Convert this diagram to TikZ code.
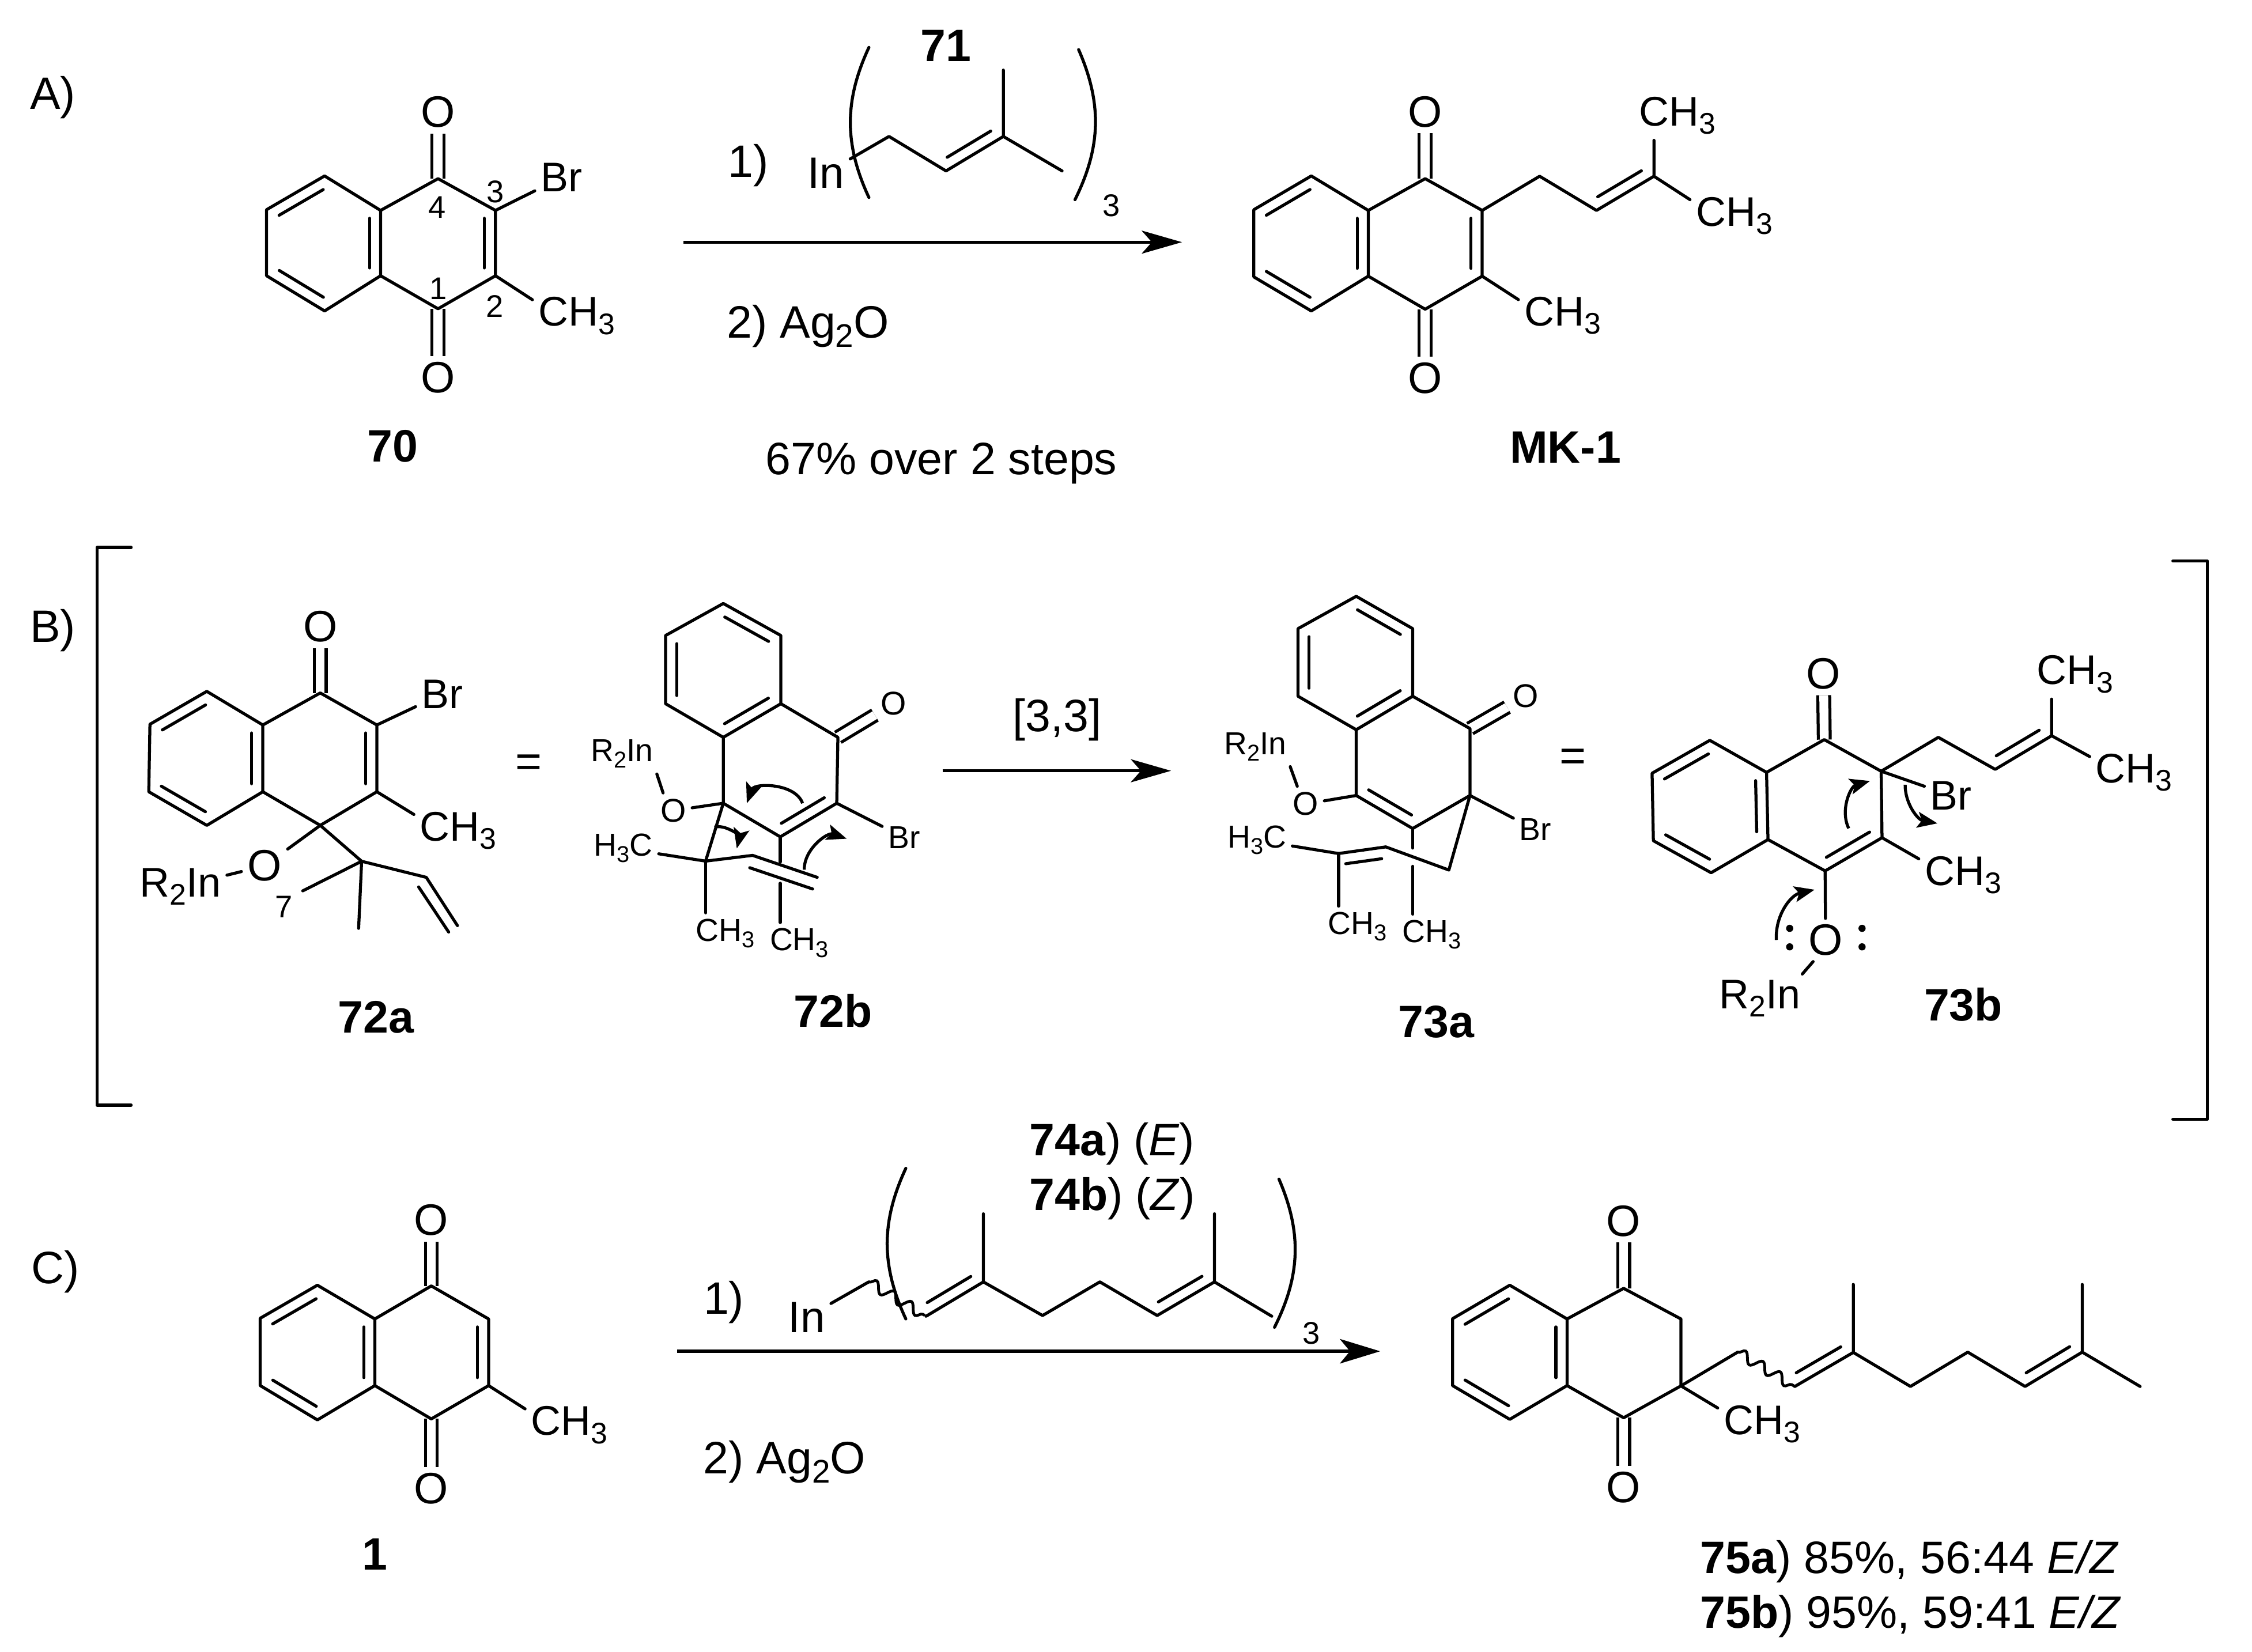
\documentclass[tikz,border=0pt]{standalone}
\usepackage{fontspec}
\usepackage{graphicx}
\setmainfont{Liberation Sans}
\usetikzlibrary{arrows.meta,calc,decorations.pathmorphing}

\newcommand{\inbond}[3][2.2pt]{\draw[bond] ($(#2)!0.12!(#3)!#1!90:(#3)$) -- ($(#3)!0.12!(#2)!#1!-90:(#2)$);}
\newcommand{\subn}[1]{\raisebox{-.2em}{\scalebox{.72}{#1}}}

\begin{document}
\begin{tikzpicture}[x=0.01cm, y=-0.01cm,
    bond/.style={line width=.6pt,line cap=round,line join=round},
    dbl/.style={line width=.6pt,double,double distance=1.75pt},
    wavy/.style={line width=.55pt,decorate,decoration={snake,amplitude=1pt,segment length=4pt}},
    rxn/.style={line width=.6pt,-{Stealth[length=2.8mm,width=1.6mm,inset=.7mm]}},
    rxnb/.style={line width=.7pt,-{Stealth[length=2.8mm,width=1.7mm,inset=.7mm]}},
    curly/.style={line width=.6pt,-{Stealth[length=1.4mm,width=1.1mm,inset=.3mm]}},
    txt/.style={anchor=base,inner sep=0pt,font=\fontsize{9}{10}\selectfont},
    lab/.style={anchor=base,inner sep=0pt,font=\fontsize{9}{10}\selectfont\bfseries},
    num/.style={anchor=base,inner sep=0pt,font=\fontsize{6.2}{7}\selectfont},
    atom/.style={anchor=base,inner sep=1pt,font=\fontsize{8.2}{9}\selectfont},
    inatom/.style={anchor=base,inner sep=1pt,font=\fontsize{8.7}{9}\selectfont},
    oxy/.style={inner sep=1pt,font=\fontsize{8.7}{9}\selectfont},
    satom/.style={anchor=base,inner sep=1pt,font=\fontsize{6.3}{7}\selectfont},
    soxy/.style={inner sep=1pt,font=\fontsize{6.5}{7}\selectfont}]

    \useasboundingbox (0,0) rectangle (1568,1150);

    \node[txt] at (36.7,76) (tagA) {A)};
    \node[txt] at (36.8,447) (tagB) {B)};
    \node[txt] at (38.4,893.7) (tagC) {C)};

    \coordinate (a1) at (226,122.5);
    \coordinate (a2) at (185.6,146);
    \coordinate (a3) at (185.6,192);
    \coordinate (a4) at (226,216.5);
    \coordinate (a5) at (265,192);
    \coordinate (a6) at (265,146.5);
    \coordinate (a7) at (305,124.4);
    \coordinate (a8) at (345,146.5);
    \coordinate (a9) at (345,192);
    \coordinate (a10) at (305,215);
    \node[oxy] at (305,78) (aO1) {O};
    \node[oxy] at (305,263) (aO2) {O};
    \node[atom] at (391,133.5) (aBr) {Br};
    \node[atom] at (401.5,227) (aMe) {CH\subn{3}};
    \node[num] at (345,141) (n3) {3};
    \node[num] at (304.5,152) (n4) {4};
    \node[num] at (305,208.4) (n1) {1};
    \node[num] at (344.5,221) (n2) {2};
    \node[lab] at (273.5,321.7) (l70) {70};
    \draw[dbl] (a7) -- (aO1);
    \draw[dbl] (a10) -- (aO2);
    \draw[bond] (a1) -- (a2) -- (a3) -- (a4) -- (a5) -- (a6) -- cycle;
    \draw[bond] (a6) -- (a7) -- (a8) -- (a9) -- (a10) -- (a5);
    \draw[bond] (a8) -- (aBr);
    \draw[bond] (a9) -- (aMe.160);
    \inbond{a1}{a2}
    \inbond{a3}{a4}
    \inbond{a5}{a6}
    \inbond{a9}{a8}

    \node[lab] at (658.7,42.6) (l71) {71};
    \node[txt] at (521,123.2) (step1a) {1)};
    \node[inatom] at (575,131) (inA) {In};
    \coordinate (r1) at (619,95);
    \coordinate (r2) at (658.7,119);
    \coordinate (r3) at (698.6,95);
    \coordinate (r4) at (698.6,48.8);
    \coordinate (r5) at (739.5,119);
    \coordinate (pa1) at (605,33);
    \coordinate (pa2) at (605,137.5);
    \coordinate (pb1) at (751,34.5);
    \coordinate (pb2) at (748.5,139);
    \draw[bond] (inA) -- (r1) -- (r2) -- (r3) -- (r4);
    \draw[bond] (r3) -- (r5);
    \inbond{r2}{r3}
    \draw[bond] (pa1) to[bend right=25] (pa2);
    \draw[bond] (pb1) to[bend left=25] (pb2);
    \node[num] at (774,150.8) (subA) {3};
    \coordinate (arA1) at (476,168.6);
    \coordinate (arA2) at (823,168.6);
    \draw[rxn] (arA1) -- (arA2);
    \node[txt] at (562.6,235.4) (step2a) {2) Ag\subn{2}O};
    \node[txt] at (655.5,330.5) (yieldA) {67\% over 2 steps};

    \coordinate (b1) at (913,122.5);
    \coordinate (b2) at (873,146);
    \coordinate (b3) at (873,192.8);
    \coordinate (b4) at (913,216.5);
    \coordinate (b5) at (952.7,192.3);
    \coordinate (b6) at (952.7,146.5);
    \coordinate (b7) at (992.3,124.4);
    \coordinate (b8) at (1032,146.5);
    \coordinate (b9) at (1032,192.3);
    \coordinate (b10) at (992.3,215.3);
    \coordinate (b11) at (1072,122.7);
    \coordinate (b12) at (1111.6,146.5);
    \coordinate (b13) at (1151.6,122.7);
    \node[oxy] at (992.3,77.8) (bO1) {O};
    \node[oxy] at (992.3,263.2) (bO2) {O};
    \node[atom] at (1168,87.5) (bMe1) {CH\subn{3}};
    \node[atom] at (1207.5,157.3) (bMe2) {CH\subn{3}};
    \node[atom] at (1088,226.9) (bMe3) {CH\subn{3}};
    \node[lab] at (1090,322.4) (lMK) {MK-1};
    \draw[dbl] (b7) -- (bO1);
    \draw[dbl] (b10) -- (bO2);
    \draw[bond] (b1) -- (b2) -- (b3) -- (b4) -- (b5) -- (b6) -- cycle;
    \draw[bond] (b6) -- (b7) -- (b8) -- (b9) -- (b10) -- (b5);
    \draw[bond] (b8) -- (b11) -- (b12) -- (b13) -- (b13 |- bMe1.south);
    \draw[bond] (b13) -- (bMe2.160);
    \draw[bond] (b9) -- (bMe3.160);
    \inbond{b1}{b2}
    \inbond{b3}{b4}
    \inbond{b5}{b6}
    \inbond{b9}{b8}
    \inbond{b12}{b13}

    \coordinate (brL1) at (91.3,381.2);
    \coordinate (brL2) at (67.5,381.2);
    \coordinate (brL3) at (67.5,769.5);
    \coordinate (brL4) at (91.3,769.5);
    \draw[bond] (brL1) -- (brL2) -- (brL3) -- (brL4);
    \coordinate (brR1) at (1512.9,390.6);
    \coordinate (brR2) at (1537,390.6);
    \coordinate (brR3) at (1537,779.4);
    \coordinate (brR4) at (1512.9,779.4);
    \draw[bond] (brR1) -- (brR2) -- (brR3) -- (brR4);

    \coordinate (c1) at (144,481.4);
    \coordinate (c2) at (104.4,504.3);
    \coordinate (c3) at (103.6,551.3);
    \coordinate (c4) at (144,574.7);
    \coordinate (c5) at (183,551.3);
    \coordinate (c6) at (183,504.8);
    \coordinate (c7) at (223,482.5);
    \coordinate (c8) at (262.4,504.8);
    \coordinate (c9) at (262.4,551.3);
    \coordinate (c10) at (223,574.7);
    \coordinate (c11) at (251.8,599.7);
    \coordinate (c12) at (296.8,610.9);
    \coordinate (c13) at (318.5,644.5);
    \coordinate (c14) at (210.8,620.3);
    \coordinate (c15) at (249.7,646.4);
    \coordinate (c16) at (291.5,617.6);
    \coordinate (c17) at (312.4,649);
    \node[oxy] at (223,436.3) (cO1) {O};
    \node[oxy] at (184.2,602.9) (cO2) {O};
    \node[atom] at (308,493.2) (cBr) {Br};
    \node[atom] at (319,585.4) (cMe) {CH\subn{3}};
    \node[atom] at (125.6,624.4) (cIn) {R\subn{2}In};
    \node[num] at (197.6,639.1) (n7) {7};
    \node[lab] at (261.7,719.2) (l72a) {72a};
    \draw[dbl] (c7) -- (cO1);
    \draw[bond] (c1) -- (c2) -- (c3) -- (c4) -- (c5) -- (c6) -- cycle;
    \draw[bond] (c6) -- (c7) -- (c8) -- (c9) -- (c10) -- (c5);
    \draw[bond] (c8) -- (cBr);
    \draw[bond] (c9) -- (cMe.160);
    \draw[bond] (c10) -- (cO2);
    \draw[bond] (cO2) -- (cIn);
    \draw[bond] (c10) -- (c11) -- (c12) -- (c13);
    \draw[bond] (c16) -- (c17);
    \draw[bond] (c14) -- (c11) -- (c15);
    \inbond{c1}{c2}
    \inbond{c3}{c4}
    \inbond{c5}{c6}
    \inbond{c9}{c8}
    \node[txt] at (368,541) (eq1) {=};

    \coordinate (d1) at (503.6,420.2);
    \coordinate (d2) at (463.4,442.5);
    \coordinate (d3) at (463.4,490);
    \coordinate (d4) at (503.6,513.4);
    \coordinate (d5) at (543.7,490);
    \coordinate (d6) at (543.7,442.5);
    \coordinate (d7) at (583.4,513.4);
    \coordinate (d8) at (582.6,559.3);
    \coordinate (d9) at (543.3,582.7);
    \coordinate (d10) at (503.6,559.3);
    \coordinate (e1) at (491.3,599.6);
    \coordinate (e2) at (524,595.6);
    \coordinate (e3) at (569,610.9);
    \coordinate (e4) at (522,604.2);
    \coordinate (e5) at (565.8,619);
    \coordinate (d9a) at (543.3,600.2);
    \coordinate (d9b) at (543.3,615);
    \node[soxy] at (622.3,490) (dO1) {O};
    \node[soxy] at (468.8,564.4) (dO2) {O};
    \node[satom] at (629.5,590.8) (dBr) {Br};
    \node[satom] at (433,530.3) (dIn) {R\subn{2}In};
    \node[satom] at (434,596.1) (dMe1) {H\subn{3}C};
    \node[satom] at (505,655.3) (dMe2) {CH\subn{3}};
    \node[satom] at (556.5,662) (dMe3) {CH\subn{3}};
    \node[lab] at (580,715.2) (l72b) {72b};
    \draw[dbl] (d7) -- (dO1);
    \draw[bond] (d1) -- (d2) -- (d3) -- (d4) -- (d5) -- (d6) -- cycle;
    \draw[bond] (d4) -- (d10) -- (d9) -- (d8) -- (d7) -- (d5);
    \draw[bond] (d8) -- (dBr);
    \draw[bond] (d10) -- (dO2);
    \draw[bond] (dO2.120) -- (dIn.-30);
    \draw[bond] (d10) -- (e1) -- (e2) -- (e3);
    \draw[bond] (e4) -- (e5);
    \draw[bond] (e1) -- (dMe1);
    \draw[bond] (e1) -- (e1 |- dMe2.north);
    \draw[bond] (d9) -- (d9a);
    \draw[bond] (d9b) -- (d9b |- dMe3.north);
    \inbond{d6}{d1}
    \inbond{d2}{d3}
    \inbond{d4}{d5}
    \inbond{d9}{d8}
    \coordinate (m1a) at (558.8,559.3);
    \coordinate (m1b) at (520,559.3);
    \coordinate (m2a) at (497.4,576);
    \coordinate (m2b) at (513,590.8);
    \coordinate (m3a) at (560,605.6);
    \coordinate (m3b) at (589.5,584);
    \draw[curly] (m1a) to[bend right=70] (m1b);
    \draw[curly] (m2a) to[bend left=60] (m2b);
    \draw[curly] (m3a) to[bend left=55] (m3b);

    \coordinate (arB1) at (656.3,536.7);
    \coordinate (arB2) at (815.4,536.7);
    \draw[rxn] (arB1) -- (arB2);
    \node[txt] at (736,509.3) (shift33) {[3,3]};

    \coordinate (f1) at (944.3,415.2);
    \coordinate (f2) at (903.8,437.7);
    \coordinate (f3) at (903.8,484.8);
    \coordinate (f4) at (944.3,508.1);
    \coordinate (f5) at (983.6,484.8);
    \coordinate (f6) at (983.6,437.7);
    \coordinate (f7) at (1023.5,507.3);
    \coordinate (f8) at (1023.5,553.9);
    \coordinate (f9) at (983.6,576.9);
    \coordinate (f10) at (944.3,553.9);
    \coordinate (g1) at (932,594.3);
    \coordinate (g2) at (964.9,589.7);
    \coordinate (g3) at (1008.8,605.8);
    \coordinate (f9a) at (983.6,590.5);
    \coordinate (f9b) at (983.6,603.2);
    \node[soxy] at (1062.5,484.8) (fO1) {O};
    \node[soxy] at (909,559.8) (fO2) {O};
    \node[satom] at (1069,585.3) (fBr) {Br};
    \node[satom] at (874,525.2) (fIn) {R\subn{2}In};
    \node[satom] at (875.2,590.5) (fMe1) {H\subn{3}C};
    \node[satom] at (945,650.6) (fMe2) {CH\subn{3}};
    \node[satom] at (997,656.2) (fMe3) {CH\subn{3}};
    \node[lab] at (1000,722.3) (l73a) {73a};
    \draw[dbl] (f7) -- (fO1);
    \draw[bond] (f1) -- (f2) -- (f3) -- (f4) -- (f5) -- (f6) -- cycle;
    \draw[bond] (f4) -- (f10) -- (f9) -- (f8) -- (f7) -- (f5);
    \draw[bond] (f8) -- (fBr);
    \draw[bond] (f10) -- (fO2);
    \draw[bond] (fO2.115) -- (fIn.-30);
    \draw[bond] (fMe1) -- (g1) -- (g2) -- (g3) -- (f8);
    \draw[bond] (g1) -- (g1 |- fMe2.north);
    \draw[bond] (f9) -- (f9a);
    \draw[bond] (f9b) -- (f9b |- fMe3.north);
    \inbond{f6}{f1}
    \inbond{f2}{f3}
    \inbond{f4}{f5}
    \inbond{f10}{f9}
    \inbond[-2.2pt]{g1}{g2}
    \node[txt] at (1095,537) (eq2) {=};

    \coordinate (h1) at (1190.5,515.5);
    \coordinate (h2) at (1150.3,538.4);
    \coordinate (h3) at (1151.2,585.4);
    \coordinate (h4) at (1191.4,607.7);
    \coordinate (h5) at (1231,584.6);
    \coordinate (h6) at (1230,537.8);
    \coordinate (h7) at (1270.2,515);
    \coordinate (h8) at (1309.8,537);
    \coordinate (h9) at (1310.4,583.3);
    \coordinate (h10) at (1270.8,606.4);
    \coordinate (h11) at (1349.6,513.4);
    \coordinate (h12) at (1389.2,535.7);
    \coordinate (h13) at (1428.5,512.3);
    \node[oxy] at (1269.6,469) (hO1) {O};
    \node[oxy] at (1271.1,654.5) (hO2) {O};
    \node[atom] at (1358.5,563.9) (hBr) {Br};
    \node[atom] at (1444.7,476.6) (hMe1) {CH\subn{3}};
    \node[atom] at (1485.8,545.1) (hMe2) {CH\subn{3}};
    \node[atom] at (1366.8,616.3) (hMe3) {CH\subn{3}};
    \node[atom] at (1225.4,702.3) (hIn) {R\subn{2}In};
    \node[lab] at (1367,710.9) (l73b) {73b};
    \draw[dbl] (h7) -- (hO1);
    \draw[bond] (h1) -- (h2) -- (h3) -- (h4) -- (h5) -- (h6) -- cycle;
    \draw[bond] (h6) -- (h7) -- (h8) -- (h9) -- (h10) -- (h5);
    \draw[bond] (h8) -- (h11) -- (h12) -- (h13) -- (h13 |- hMe1.south);
    \draw[bond] (h13) -- (hMe2.160);
    \draw[bond] (h8) -- (hBr);
    \draw[bond] (h9) -- (hMe3.160);
    \draw[bond] (h10) -- (hO2);
    \draw[bond] (hO2.-120) -- (hIn.30);
    \inbond{h1}{h2}
    \inbond{h3}{h4}
    \inbond{h5}{h6}
    \inbond{h10}{h9}
    \inbond{h12}{h13}
    \fill (1246.1,646.4) circle (0.025cm);
    \fill (1246.1,659.3) circle (0.025cm);
    \fill (1296.5,646.4) circle (0.025cm);
    \fill (1296.5,659.3) circle (0.025cm);
    \coordinate (m4a) at (1287.2,576.8);
    \coordinate (m4b) at (1302,543.8);
    \coordinate (m5a) at (1326.5,546.4);
    \coordinate (m5b) at (1349,573.3);
    \coordinate (m6a) at (1236.8,654.5);
    \coordinate (m6b) at (1263.4,619.5);
    \draw[curly] (m4a) to[bend left=50] (m4b);
    \draw[curly] (m5a) to[bend right=40] (m5b);
    \draw[curly] (m6a) to[bend left=40] (m6b);

    \coordinate (i1) at (221,894.9);
    \coordinate (i2) at (181.2,917.9);
    \coordinate (i3) at (181.2,964.8);
    \coordinate (i4) at (221,988.7);
    \coordinate (i5) at (261,964.8);
    \coordinate (i6) at (261,918.4);
    \coordinate (i7) at (300.3,895.4);
    \coordinate (i8) at (340.2,918.4);
    \coordinate (i9) at (340.2,964.8);
    \coordinate (i10) at (300.3,988);
    \node[oxy] at (300.3,849.6) (iO1) {O};
    \node[oxy] at (300.3,1036.4) (iO2) {O};
    \node[atom] at (396.4,999.3) (iMe) {CH\subn{3}};
    \node[lab] at (261,1093) (l1) {1};
    \draw[dbl] (i7) -- (iO1);
    \draw[dbl] (i10) -- (iO2);
    \draw[bond] (i1) -- (i2) -- (i3) -- (i4) -- (i5) -- (i6) -- cycle;
    \draw[bond] (i6) -- (i7) -- (i8) -- (i9) -- (i10) -- (i5);
    \draw[bond] (i9) -- (iMe.160);
    \inbond{i1}{i2}
    \inbond{i3}{i4}
    \inbond{i5}{i6}
    \inbond{i9}{i8}

    \node[txt] at (774.4,804.6) (l74a) {\textbf{74a}) (\textit{E})};
    \node[txt] at (774.4,842.8) (l74b) {\textbf{74b}) (\textit{Z})};
    \node[txt] at (504,914.8) (step1c) {1)};
    \node[inatom] at (561.6,927.8) (inC) {In};
    \coordinate (s1) at (604.9,892.6);
    \coordinate (s2) at (644,916);
    \coordinate (s3) at (644.8,916.5);
    \coordinate (s4) at (684.7,892.6);
    \coordinate (s5) at (684.7,845.2);
    \coordinate (s6) at (725.9,916);
    \coordinate (s7) at (765.8,892.6);
    \coordinate (s8) at (805.7,916);
    \coordinate (s9) at (845.6,892.6);
    \coordinate (s10) at (845.6,845.2);
    \coordinate (s11) at (885.5,916.5);
    \draw[bond] (inC) -- (s1);
    \draw[wavy] (s1) -- (s2);
    \draw[bond] (s3) -- (s4) -- (s5);
    \draw[bond] (s4) -- (s6) -- (s7) -- (s8) -- (s9) -- (s10);
    \draw[bond] (s9) -- (s11);
    \inbond{s3}{s4}
    \inbond{s8}{s9}
    \coordinate (pc1) at (630.7,813.5);
    \coordinate (pc2) at (630.7,918.4);
    \coordinate (pd1) at (890.5,821);
    \coordinate (pd2) at (887.4,924.2);
    \draw[bond] (pc1) to[bend right=25] (pc2);
    \draw[bond] (pd1) to[bend left=25] (pd2);
    \node[num] at (913,936) (subC) {3};
    \coordinate (arC1) at (471.6,940.9);
    \coordinate (arC2) at (961,940.9);
    \draw[rxnb] (arC1) -- (arC2);
    \node[txt] at (546.2,1026.3) (step2c) {2) Ag\subn{2}O};

    \coordinate (k1) at (1051.2,894.9);
    \coordinate (k2) at (1011.4,918.2);
    \coordinate (k3) at (1011.4,964.8);
    \coordinate (k4) at (1051.2,988.3);
    \coordinate (k5) at (1091.1,964.8);
    \coordinate (k6) at (1091.1,918.4);
    \coordinate (k7) at (1130.5,897.1);
    \coordinate (k8) at (1170.4,918.4);
    \coordinate (k9) at (1170.4,965);
    \coordinate (k10) at (1130.5,987.2);
    \coordinate (k11) at (1209.9,941.5);
    \coordinate (k12) at (1249.7,965.4);
    \coordinate (k13) at (1290.4,941.7);
    \coordinate (k14) at (1290.4,894.4);
    \coordinate (k15) at (1330.2,965.4);
    \coordinate (k16) at (1370.1,941.5);
    \coordinate (k17) at (1410,965.4);
    \coordinate (k18) at (1449.8,941.5);
    \coordinate (k19) at (1449.8,894.4);
    \coordinate (k20) at (1490.1,965.4);
    \node[oxy] at (1130.5,850.1) (kO1) {O};
    \node[oxy] at (1130.5,1035.7) (kO2) {O};
    \node[atom] at (1226.8,998.7) (kMe) {CH\subn{3}};
    \draw[dbl] (k7) -- (kO1);
    \draw[dbl] (k10) -- (kO2);
    \draw[bond] (k1) -- (k2) -- (k3) -- (k4) -- (k5) -- (k6) -- cycle;
    \draw[bond] (k6) -- (k7) -- (k8) -- (k9) -- (k10) -- (k5);
    \draw[bond] (k9) -- (k11);
    \draw[wavy] (k11) -- (k12);
    \draw[bond] (k12) -- (k13) -- (k14);
    \draw[bond] (k13) -- (k15) -- (k16) -- (k17) -- (k18) -- (k19);
    \draw[bond] (k18) -- (k20);
    \draw[bond] (k9) -- (kMe.160);
    \inbond{k1}{k2}
    \inbond{k3}{k4}
    \inbond{k5}{k6}
    \inbond{k12}{k13}
    \inbond{k17}{k18}
    \node[txt] at (1329.6,1095.6) (l75a) {\textbf{75a}) 85\%, 56:44 \textit{E/Z}};
    \node[txt] at (1330.4,1133.5) (l75b) {\textbf{75b}) 95\%, 59:41 \textit{E/Z}};

\end{tikzpicture}
\end{document}
